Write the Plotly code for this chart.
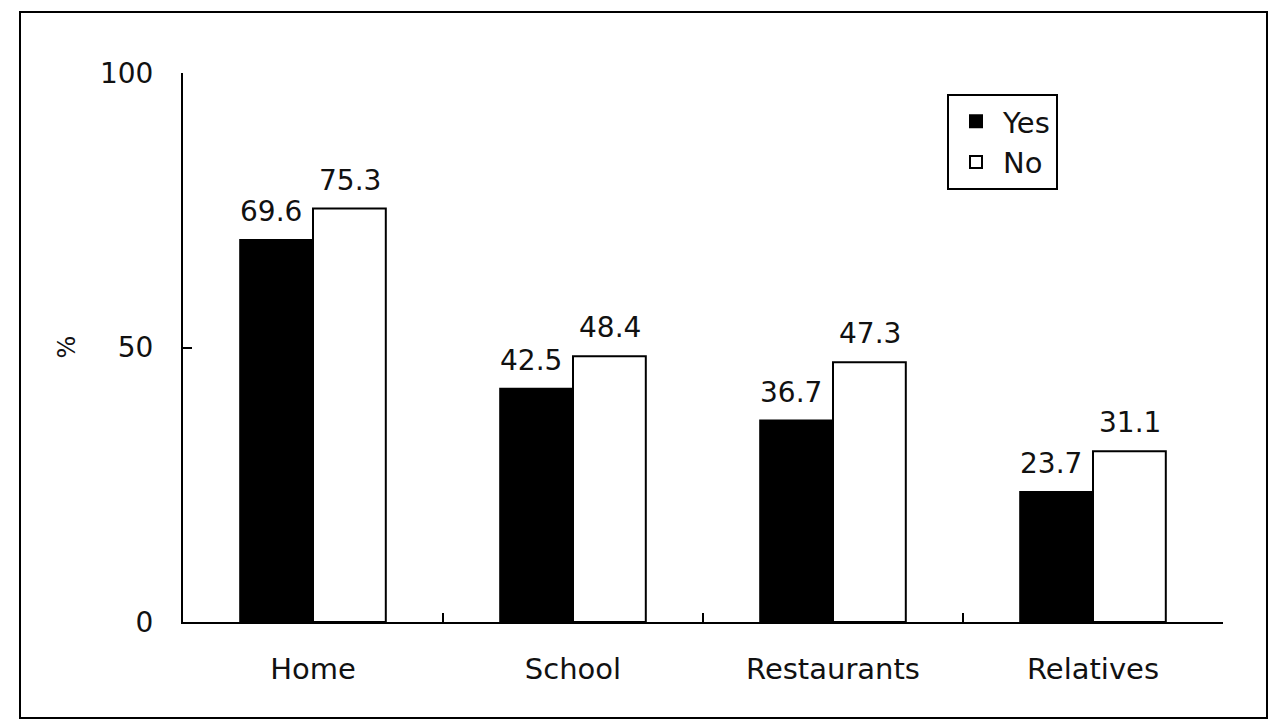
import plotly.graph_objects as go

categories = ["Home", "School", "Restaurants", "Relatives"]
yes_values = [69.6, 42.5, 36.7, 23.7]
no_values = [75.3, 48.4, 47.3, 31.1]
y_ticks = [0, 50, 100]

FONT = "DejaVu Sans"
TXT = "#111111"

fig = go.Figure()
fig.add_trace(go.Bar(
    name="Yes", x=categories, y=yes_values,
    marker=dict(color="black", line=dict(color="black", width=2)),
))
fig.add_trace(go.Bar(
    name="No", x=categories, y=no_values,
    marker=dict(color="white", line=dict(color="black", width=2)),
))

# value labels above bars
bar_px = 73
for cat, v in zip(categories, yes_values):
    fig.add_annotation(x=cat, y=v, text=f"{v:.1f}", showarrow=False,
                       xshift=-bar_px / 2 - 6, yanchor="bottom", yshift=10,
                       font=dict(family=FONT, size=28, color=TXT))
for cat, v in zip(categories, no_values):
    fig.add_annotation(x=cat, y=v, text=f"{v:.1f}", showarrow=False,
                       xshift=bar_px / 2, yanchor="bottom", yshift=10,
                       font=dict(family=FONT, size=28, color=TXT))

# outer frame
fig.add_shape(type="rect", xref="paper", yref="paper",
              x0=(20 - 183) / 1040, x1=(1267 - 183) / 1040,
              y0=(622 - 718) / 549, y1=(622 - 12) / 549,
              line=dict(color="black", width=2), fillcolor="rgba(0,0,0,0)")

fig.update_layout(
    width=1275, height=720,
    margin=dict(l=183, r=52, t=73, b=98),
    paper_bgcolor="white", plot_bgcolor="white",
    barmode="group", bargap=0.44, bargroupgap=0,
    font=dict(family=FONT, size=28, color=TXT),
    showlegend=True,
    legend=dict(x=(947 - 183) / 1040, y=(622 - 94) / 549,
                xanchor="left", yanchor="top",
                bordercolor="black", borderwidth=2, bgcolor="white",
                font=dict(family=FONT, size=29, color=TXT),
                itemwidth=44, tracegroupgap=0),
    xaxis=dict(showline=True, linecolor="black", linewidth=2,
               ticks="inside", tickson="boundaries", ticklen=9,
               tickcolor="black", tickwidth=2,
               showgrid=False, zeroline=False,
               ticklabelstandoff=20,
               tickfont=dict(family=FONT, size=29, color=TXT)),
    yaxis=dict(range=[0, 100], tickvals=y_ticks, showline=True,
               linecolor="black", linewidth=2, ticks="inside", ticklen=9,
               tickcolor="black", tickwidth=2, showgrid=False, zeroline=False,
               ticklabelstandoff=22,
               tickfont=dict(family=FONT, size=28, color=TXT)),
)
fig.add_annotation(xref="paper", yref="paper", x=(50 - 183) / 1040, y=0.5,
                   text="%", textangle=-90, showarrow=False,
                   font=dict(family=FONT, size=24, color=TXT))

fig.write_html("out.html")
